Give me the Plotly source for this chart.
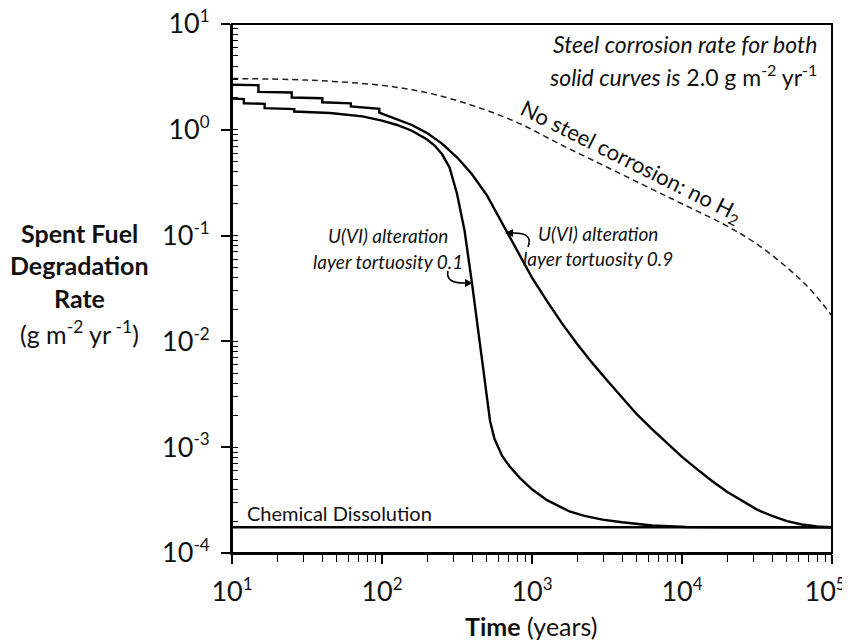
import plotly.graph_objects as go

# ---------------- data ----------------
time_no_steel = [10, 31.6, 100, 200, 400, 800, 1600, 3200, 6300, 10000, 20000, 31600, 50000, 70800, 100000]
rate_no_steel = [3.05, 2.95, 2.63, 2.24, 1.70, 1.17, 0.71, 0.44, 0.275, 0.20, 0.123, 0.083, 0.050, 0.0316, 0.0174]

time_tort09 = [10, 15, 15, 25, 25, 40, 40, 62, 62, 96, 96,
               126, 158, 200, 251, 316, 398, 501, 631, 794, 1000, 1259, 1585, 1995, 2512, 3162,
               3981, 5012, 6310, 7943, 10000, 12589, 15849, 19953, 25119, 31623, 39811, 50119,
               63096, 79433, 100000]
rate_tort09 = [2.67, 2.64, 2.28, 2.25, 2.02, 1.99, 1.82, 1.78, 1.66, 1.58, 1.45,
               1.26, 1.11, 0.93, 0.74, 0.55, 0.38, 0.24, 0.132, 0.072, 0.040, 0.024, 0.0148,
               0.0095, 0.0063, 0.0043, 0.00295, 0.00204, 0.00148, 0.0011, 0.00081, 0.00062,
               0.00048, 0.00038, 0.00031, 0.000257, 0.000224, 0.0002, 0.000186, 0.000178, 0.000175]

time_tort01 = [10, 12, 12, 16.5, 16.5, 26, 26,
               45, 74, 100, 126, 158, 200, 224, 251, 282, 316, 355, 398, 447, 501, 525, 562,
               631, 708, 832, 1000, 1259, 1778, 2239, 2951, 3981, 6310, 10700, 20000, 100000]
rate_tort01 = [1.97, 1.95, 1.78, 1.76, 1.60, 1.57, 1.49,
               1.44, 1.34, 1.22, 1.11, 0.98, 0.81, 0.71, 0.59, 0.44, 0.25, 0.112, 0.0355, 0.010,
               0.0028, 0.00178, 0.0012, 0.00083, 0.00066, 0.00051, 0.0004, 0.000316, 0.000247,
               0.000224, 0.000207, 0.000195, 0.000182, 0.000176, 0.000175, 0.000175]

time_chemical = [10, 100000]
rate_chemical = [0.000175, 0.000175]

SUP = "<sup><span style='font-size:17px'>{}</span></sup>"
x_tick_vals = [10, 100, 1000, 10000, 100000]
x_tick_text = ["10" + SUP.format(e) for e in ["1", "2", "3", "4", "5"]]
x_tick_text[-1] += "\u00a0\u00a0"   # keep the last label inside the page, as in the reference
y_tick_vals = [0.0001, 0.001, 0.01, 0.1, 1, 10]
y_tick_text = ["10" + SUP.format(e) for e in ["-4", "-3", "-2", "-1", "0", "1"]]

# ---------------- layout helpers ----------------
FONT = "Lato"
PAGE_OFF = 8                       # default body margin of the html page
L, R, T, B = 232, 832, 24, 553     # plot-area edges in page pixels
W, H = 850 - PAGE_OFF, 640 - PAGE_OFF


def px(x):
    return (x - L) / (R - L)


def py(y):
    return (B - y) / (B - T)


fig = go.Figure()

fig.add_trace(go.Scatter(x=time_no_steel, y=rate_no_steel, mode="lines",
                         line=dict(color="#222", width=1.5, dash="6px,4px", shape="spline"),
                         showlegend=False, hoverinfo="skip"))
fig.add_trace(go.Scatter(x=time_tort09, y=rate_tort09, mode="lines",
                         line=dict(color="black", width=2.4), showlegend=False))
fig.add_trace(go.Scatter(x=time_tort01, y=rate_tort01, mode="lines",
                         line=dict(color="black", width=2.4), showlegend=False))
fig.add_trace(go.Scatter(x=time_chemical, y=rate_chemical, mode="lines",
                         line=dict(color="black", width=2.4), showlegend=False))

axis_common = dict(showgrid=False, zeroline=False, showline=True, linecolor="black",
                   linewidth=2, mirror=False, tickcolor="black", tickwidth=1.5, automargin=False,
                   ticklabeloverflow="allow",
                   tickfont=dict(family=FONT, size=27, color="#111"))

fig.update_xaxes(type="log", range=[1, 5], tickmode="array", tickvals=x_tick_vals,
                 ticktext=x_tick_text, ticks="outside", ticklen=9, ticklabelstandoff=5,
                 minor=dict(dtick="D1", ticks="outside", ticklen=7, tickwidth=1.3,
                            tickcolor="black", showgrid=False),
                 **axis_common)
fig.update_yaxes(type="log", range=[-4, 1], tickmode="array", tickvals=y_tick_vals,
                 ticktext=y_tick_text, ticks="outside", ticklen=9, ticklabelstandoff=6,
                 minor=dict(dtick="D1", ticks="inside", ticklen=6, tickwidth=1.3,
                            tickcolor="black", showgrid=False),
                 **axis_common)

ann = []
# y title
ylines = [("<b>Spent Fuel</b>", 233), ("<b>Degradation</b>", 265), ("<b>Rate</b>", 298),
          ("(g m<sup>-2</sup> yr<sup> -1</sup>)", 332)]
for txt, yy in ylines:
    ann.append(dict(x=px(79), y=py(yy), xref="paper", yref="paper", text=txt, showarrow=False,
                    xanchor="center", yanchor="middle", font=dict(family=FONT, size=25, color="#111")))
# x title
ann.append(dict(x=px(531), y=py(626), xref="paper", yref="paper", text="<b>Time</b> (years)",
                showarrow=False, xanchor="center", yanchor="middle",
                font=dict(family=FONT, size=25, color="#111")))
# top-right note
ann.append(dict(x=px(819), y=py(44), xref="paper", yref="paper",
                text="<i>Steel corrosion rate for both</i>", showarrow=False,
                xanchor="right", yanchor="middle", font=dict(family=FONT, size=23, color="#111")))
ann.append(dict(x=px(819), y=py(75), xref="paper", yref="paper",
                text="<i>solid curves is</i> 2.0 g m<sup>-2</sup> yr<sup>-1</sup>", showarrow=False,
                xanchor="right", yanchor="middle", font=dict(family=FONT, size=23, color="#111")))
# rotated dashed-curve label
ann.append(dict(x=px(631), y=py(162), xref="paper", yref="paper",
                text="No steel corrosion: no H<sub>2</sub>", showarrow=False, textangle=26.5,
                xanchor="center", yanchor="middle", font=dict(family=FONT, size=22, color="#111")))
# tortuosity labels
for txt, xx, yy in [("<i>U(VI) alteration</i>", 388, 235), ("<i>layer tortuosity 0.1</i>", 388, 262),
                    ("<i>U(VI) alteration</i>", 598, 233), ("<i>layer tortuosity 0.9</i>", 598, 258)]:
    ann.append(dict(x=px(xx), y=py(yy), xref="paper", yref="paper", text=txt, showarrow=False,
                    xanchor="center", yanchor="middle", font=dict(family=FONT, size=19, color="#111")))
# chemical dissolution label
ann.append(dict(x=px(245), y=py(513), xref="paper", yref="paper", text="Chemical Dissolution",
                showarrow=False, xanchor="left", yanchor="middle",
                font=dict(family=FONT, size=20, color="#111")))
# arrowheads
ann.append(dict(x=px(473), y=py(283), xref="paper", yref="paper", text="", showarrow=True,
                ax=-8, ay=0, arrowhead=2, arrowsize=1, arrowwidth=1.6, arrowcolor="black", standoff=0))
ann.append(dict(x=px(505), y=py(233), xref="paper", yref="paper", text="", showarrow=True,
                ax=8, ay=0, arrowhead=2, arrowsize=1, arrowwidth=1.6, arrowcolor="black", standoff=0))


def path(points):
    (x0, y0), (cx, cy), (x1, y1) = points
    return f"M {px(x0)},{py(y0)} Q {px(cx)},{py(cy)} {px(x1)},{py(y1)}"


shapes = [
    dict(type="path", xref="paper", yref="paper",
         path=path([(448, 271), (445, 284), (467, 283)]), line=dict(color="black", width=1.6)),
    dict(type="path", xref="paper", yref="paper",
         path=path([(528, 247), (534, 232), (511, 233)]), line=dict(color="black", width=1.6)),
    # plot frame (top and right borders)
    dict(type="rect", xref="paper", yref="paper", x0=0, x1=1, y0=0, y1=1,
         line=dict(color="black", width=2), layer="above"),
]

fig.update_layout(width=W, height=H,
                  margin=dict(l=L - PAGE_OFF, r=W - (R - PAGE_OFF), t=T - PAGE_OFF, b=H - (B - PAGE_OFF)),
                  plot_bgcolor="white", paper_bgcolor="white",
                  annotations=ann, shapes=shapes, showlegend=False,
                  font=dict(family=FONT, color="#111"))

fig.write_html("out.html")
